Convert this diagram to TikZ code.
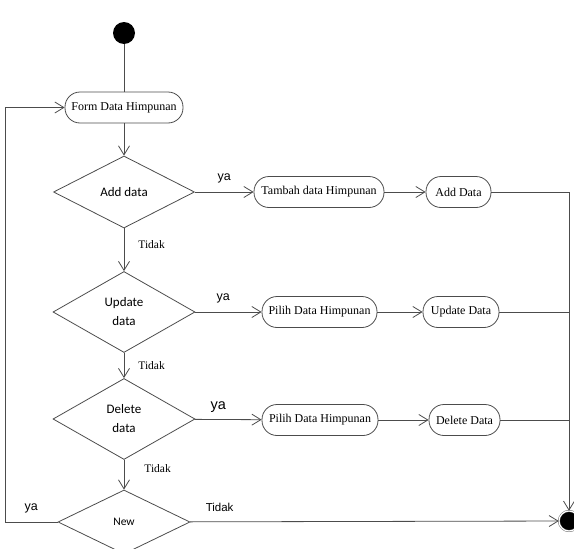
\documentclass[tikz,border=0pt]{standalone}
\usepackage{fontspec}
\setmainfont{Liberation Serif}
\newfontfamily\dgfont{Carlito}
\newfontfamily\lbfont{Liberation Sans}
\usetikzlibrary{shapes.geometric,arrows.meta}
\begin{document}
\begin{tikzpicture}[x=1pt,y=-1pt,>={Straight Barb[length=9pt,width=11pt]},
    line/.style={draw=black!70,line width=0.8pt},
    act/.style={draw=black!70,line width=0.8pt,rounded corners=15pt,minimum height=31pt,inner sep=0pt,font=\fontsize{12}{14}\selectfont},
    dec/.style={diamond,draw=black!70,line width=0.8pt,inner sep=0pt,align=center,font=\dgfont\fontsize{13}{19}\selectfont},
    lbl/.style={inner sep=1pt,font=\fontsize{11.5}{13}\selectfont},
    yes/.style={inner sep=1pt,font=\lbfont\fontsize{12.5}{14}\selectfont}]
    \useasboundingbox (0,0) rectangle (574,549);
    % start, form and decisions
    \node[circle,fill=black,minimum size=22pt,inner sep=0pt] (S_0) at (124,33) {};
    \node[act,minimum width=118pt] (F_0) at (124,107.5) {Form Data Himpunan};
    \node[dec,minimum width=141pt,minimum height=72pt] (D_1) at (124,192) {Add data};
    \node[dec,minimum width=142pt,minimum height=81pt] (D_2) at (124,312) {Update\\data};
    \node[dec,minimum width=142pt,minimum height=81pt] (D_3) at (124,419) {Delete\\data};
    \node[dec,minimum width=132pt,minimum height=64pt,font=\dgfont\fontsize{11.5}{13}\selectfont] (D_4) at (124,522) {New};
    % actions
    \node[act,minimum width=130pt] (T_1) at (319,192) {Tambah data Himpunan};
    \node[act,minimum width=65pt] (A_1) at (458.5,192) {Add Data};
    \node[act,minimum width=115pt] (P_2) at (319.5,312) {Pilih Data Himpunan};
    \node[act,minimum width=76pt] (U_2) at (461,312) {Update Data};
    \node[act,minimum width=116pt] (P_3) at (320,420) {Pilih Data Himpunan};
    \node[act,minimum width=71pt] (X_3) at (464.5,420) {Delete Data};
    % end
    \node[circle,fill=black,draw=black!70,double=white,double distance=1.2pt,minimum size=20pt,inner sep=0pt] (E) at (569,521) {};
    \coordinate (L) at (5,522);

    \draw[line] (S_0) -- (F_0);
    \draw[line,->] (F_0) -- (D_1);
    \draw[line,->] (D_1) -- node[lbl,right=13pt,pos=0.39] {Tidak} (D_2);
    \draw[line,->] (D_2) -- node[lbl,right=13pt] {Tidak} (D_3);
    \draw[line,->] (D_3) -- node[lbl,right=19pt,pos=0.3] {Tidak} (D_4);

    \draw[line,->] (D_1) -- node[yes,above=8pt] {ya} (T_1);
    \draw[line,->] (T_1) -- (A_1);
    \draw[line,->] (A_1) -| (E);
    \draw[line,->] (D_2) -- node[yes,above=8pt,pos=0.42] {ya} (P_2);
    \draw[line,->] (P_2) -- (U_2);
    \draw[line] (U_2) -- (U_2 -| E);
    \draw[line,->] (D_3) -- node[yes,above=6pt,pos=0.35,font=\lbfont\fontsize{14.5}{16}\selectfont] {ya} (P_3);
    \draw[line,->] (P_3) -- (X_3);
    \draw[line] (X_3) -- (X_3 -| E);

    \draw[line,->] (D_4) -- node[yes,above=9pt,pos=0.08,font=\lbfont\fontsize{11.5}{13}\selectfont] {Tidak} (E);
    \draw[line,->] (D_4.west) -- node[yes,above=8pt] {ya} (L) |- (F_0);
\end{tikzpicture}
\end{document}
